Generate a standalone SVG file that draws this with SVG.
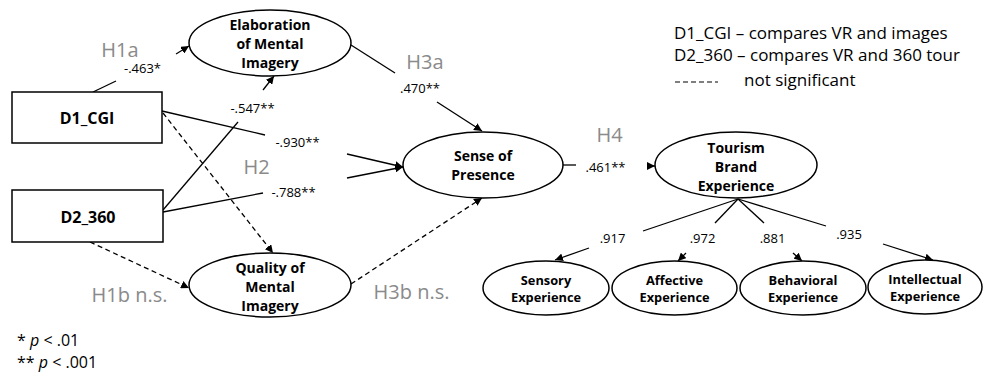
<svg xmlns="http://www.w3.org/2000/svg" width="984" height="380" viewBox="0 0 984 380">
<style>
.node{fill:#fff;stroke:#000;stroke-width:1.5}
.nt{font-family:"Open Sans","Noto Sans",sans-serif;font-weight:bold;font-size:14px;text-anchor:middle;fill:#000}
.nts{font-family:"Open Sans","Noto Sans",sans-serif;font-weight:bold;font-size:12.8px;text-anchor:middle;fill:#000}
.c{fill:none;stroke:#000;stroke-width:1.3}
.d{stroke-dasharray:5,3.5}
.coef{font-family:"Open Sans","Noto Sans",sans-serif;font-size:13px;text-anchor:middle;fill:#000}
.h{font-family:"Open Sans","Noto Sans",sans-serif;font-size:20px;text-anchor:middle;fill:#8a8a8a}
.leg{font-family:"Open Sans","Noto Sans",sans-serif;font-size:17px;fill:#000}
.fn{font-family:"Open Sans","Noto Sans",sans-serif;font-size:16px;fill:#000}
</style>
<defs>
<marker id="ah" viewBox="0 0 10 10" refX="10" refY="5" markerWidth="8" markerHeight="8" markerUnits="userSpaceOnUse" orient="auto">
<path d="M0,0 L10,5 L0,10 z" fill="#000"/>
</marker>
</defs>
<rect width="984" height="380" fill="#fff"/>
<g id="connectors">
<line class="c" x1="93" y1="92" x2="116" y2="81"/>
<line class="c" x1="176" y1="54" x2="189" y2="46" marker-end="url(#ah)"/>
<line class="c" x1="163" y1="210" x2="238" y2="122"/>
<line class="c" x1="263" y1="90" x2="274" y2="76" marker-end="url(#ah)"/>
<line class="c" x1="162" y1="111" x2="265" y2="135"/>
<line class="c" x1="347" y1="154" x2="403" y2="167" marker-end="url(#ah)"/>
<line class="c" x1="163" y1="212" x2="263" y2="193"/>
<line class="c" x1="347" y1="178" x2="403" y2="167" marker-end="url(#ah)"/>
<line class="c d" x1="163" y1="113" x2="273" y2="253" marker-end="url(#ah)"/>
<line class="c d" x1="90" y1="242" x2="189" y2="288" marker-end="url(#ah)"/>
<line class="c" x1="351" y1="45" x2="395" y2="73"/>
<line class="c" x1="437" y1="102" x2="482" y2="131" marker-end="url(#ah)"/>
<line class="c d" x1="351" y1="284" x2="482" y2="198" marker-end="url(#ah)"/>
<line class="c" x1="563" y1="165" x2="576" y2="165"/>
<line class="c" x1="647" y1="166" x2="655" y2="166" marker-end="url(#ah)"/>
<line class="c" x1="738" y1="199" x2="643" y2="231"/>
<line class="c" x1="589" y1="248" x2="555" y2="260" marker-end="url(#ah)"/>
<line class="c" x1="738" y1="199" x2="715" y2="223"/>
<line class="c" x1="686" y1="253" x2="678" y2="261" marker-end="url(#ah)"/>
<line class="c" x1="738" y1="199" x2="764" y2="223"/>
<line class="c" x1="793" y1="253" x2="802" y2="261" marker-end="url(#ah)"/>
<line class="c" x1="738" y1="199" x2="826" y2="226"/>
<line class="c" x1="883" y1="244" x2="933" y2="260" marker-end="url(#ah)"/>
</g>
<g id="labels">
<text class="h" x="120" y="57">H1a</text>
<text class="coef" x="142.5" y="72.5">-.463*</text>
<text class="coef" x="252.5" y="112.5">-.547**</text>
<text class="coef" x="297.5" y="146.5">-.930**</text>
<text class="h" x="256.5" y="174">H2</text>
<text class="coef" x="293.5" y="196.5">-.788**</text>
<text class="h" x="129.5" y="302">H1b n.s.</text>
<text class="h" x="425" y="69">H3a</text>
<text class="coef" x="420" y="92.5">.470**</text>
<text class="h" x="411.5" y="299">H3b n.s.</text>
<text class="h" x="609.5" y="142">H4</text>
<text class="coef" x="605.5" y="171.5">.461**</text>
<text class="coef" x="612.5" y="242.5">.917</text>
<text class="coef" x="702.5" y="242.5">.972</text>
<text class="coef" x="772.5" y="242.5">.881</text>
<text class="coef" x="849" y="238.5">.935</text>
</g>
<g id="n-d1">
<rect class="node" x="12" y="92" width="150" height="51"/>
<text class="nt" x="87" y="123.5" style="font-size:16px">D1_CGI</text>
</g>
<g id="n-d2">
<rect class="node" x="12" y="190" width="151" height="52"/>
<text class="nt" x="88" y="222.5" style="font-size:16px">D2_360</text>
</g>
<g id="n-elab">
<ellipse class="node" cx="270" cy="43" rx="81" ry="33"/>
<text class="nt" x="270" y="29.5">Elaboration</text>
<text class="nt" x="270" y="48.7">of Mental</text>
<text class="nt" x="270" y="67.9">Imagery</text>
</g>
<g id="n-qual">
<ellipse class="node" cx="270" cy="285" rx="81" ry="32"/>
<text class="nt" x="270" y="272.5">Quality of</text>
<text class="nt" x="270" y="291.7">Mental</text>
<text class="nt" x="270" y="310.9">Imagery</text>
</g>
<g id="n-sense">
<ellipse class="node" cx="483" cy="165" rx="80" ry="33"/>
<text class="nt" x="483" y="160.5">Sense of</text>
<text class="nt" x="483" y="179.7">Presence</text>
</g>
<g id="n-tbe">
<ellipse class="node" cx="736" cy="165" rx="81" ry="33"/>
<text class="nt" x="736" y="152.5">Tourism</text>
<text class="nt" x="736" y="171.7">Brand</text>
<text class="nt" x="736" y="190.9">Experience</text>
</g>
<g id="n-sens">
<ellipse class="node" cx="546" cy="288" rx="63" ry="27"/>
<text class="nts" x="546" y="284.5">Sensory</text>
<text class="nts" x="546" y="302">Experience</text>
</g>
<g id="n-aff">
<ellipse class="node" cx="674.5" cy="288" rx="62.5" ry="27"/>
<text class="nts" x="674.5" y="284.5">Affective</text>
<text class="nts" x="674.5" y="302">Experience</text>
</g>
<g id="n-beh">
<ellipse class="node" cx="803" cy="288" rx="63" ry="27"/>
<text class="nts" x="803" y="284.5">Behavioral</text>
<text class="nts" x="803" y="302">Experience</text>
</g>
<g id="n-int">
<ellipse class="node" cx="925" cy="287" rx="57" ry="27"/>
<text class="nts" x="925" y="283.5">Intellectual</text>
<text class="nts" x="925" y="301">Experience</text>
</g>
<g id="legend">
<text class="leg" x="674" y="39">D1_CGI – compares VR and images</text>
<text class="leg" x="674" y="61">D2_360 – compares VR and 360 tour</text>
<line x1="675" y1="82" x2="718" y2="82" stroke="#000" stroke-width="1.2" stroke-dasharray="5,3"/>
<text class="leg" x="744" y="86">not significant</text>
<text class="fn" x="17" y="346">* <tspan font-style="italic">p</tspan> &lt; .01</text>
<text class="fn" x="17" y="368">** <tspan font-style="italic">p</tspan> &lt; .001</text>
</g>
</svg>
